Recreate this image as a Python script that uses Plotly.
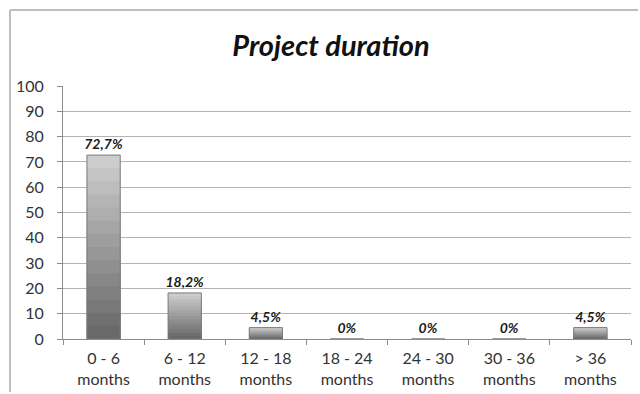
import plotly.graph_objects as go

# Share of projects per duration bucket (percent)
categories = ["0 - 6<br>months", "6 - 12<br>months", "12 - 18<br>months",
              "18 - 24<br>months", "24 - 30<br>months", "30 - 36<br>months",
              "> 36<br>months"]
shares = [72.7, 18.2, 4.5, 0, 0, 0, 4.5]
share_labels = ["72,7%", "18,2%", "4,5%", "0%", "0%", "0%", "4,5%"]
y_ticks = [0, 10, 20, 30, 40, 50, 60, 70, 80, 90, 100]

font_family = "Lato, 'Open Sans', sans-serif"
bar_width = 0.41

fig = go.Figure()

# Shaded bar body: stacked overlays from light (top) to dark (bottom)
steps = 14
light, dark = 205, 105
for k in range(steps):
    frac = 1 - k / steps
    g = int(light + (dark - light) * k / (steps - 1))
    fig.add_trace(go.Bar(
        x=categories,
        y=[v * frac for v in shares],
        width=bar_width,
        marker=dict(color=f"rgb({g},{g},{g})", line=dict(width=0)),
        hoverinfo="skip",
    ))

# Outline and value labels
fig.add_trace(go.Bar(
    x=categories,
    y=shares,
    text=share_labels,
    textposition="outside",
    constraintext="none",
    textfont=dict(family=font_family, size=14, color="#1a1a1a"),
    texttemplate="<b><i>%{text}</i></b>",
    cliponaxis=False,
    width=bar_width,
    marker=dict(color="rgba(0,0,0,0)", line=dict(color="#7a7a7a", width=1)),
))

# Chart frame: left and top edges as separate lines
frame = dict(color="#bdbdbd", width=2)
fig.add_shape(type="line", xref="paper", yref="paper",
              x0=-53 / 568, x1=-53 / 568, y0=-53 / 253, y1=1 + 76 / 253,
              line=frame, layer="below")
fig.add_shape(type="line", xref="paper", yref="paper",
              x0=-53 / 568, x1=575 / 568, y0=1 + 76 / 253, y1=1 + 76 / 253,
              line=frame, layer="below")

fig.update_layout(
    width=640, height=394,
    margin=dict(l=63, r=9, t=86, b=55, autoexpand=False),
    barmode="overlay",
    paper_bgcolor="white",
    plot_bgcolor="white",
    showlegend=False,
    title=dict(text="<b><i>Project duration</i></b>", x=331 / 640, xanchor="center",
               y=1 - 46 / 394, yanchor="middle",
               font=dict(family=font_family, size=29, color="#111")),
)
fig.update_xaxes(
    type="category", automargin=False,
    showline=True, linecolor="#8c8c8c", linewidth=1,
    ticks="outside", tickson="boundaries", ticklen=5, tickcolor="#8c8c8c",
    ticklabelstandoff=5,
    tickfont=dict(family=font_family, size=16, color="#333"),
    showgrid=False,
)
fig.update_yaxes(
    range=[0, 100], tickvals=y_ticks, automargin=False,
    showline=True, linecolor="#8c8c8c", linewidth=1,
    ticks="outside", ticklen=5, tickcolor="#8c8c8c",
    ticklabelstandoff=10,
    showgrid=True, gridcolor="#b3b3b3", gridwidth=1,
    zeroline=False,
    tickfont=dict(family=font_family, size=16, color="#333"),
)

# Keep the page itself from scrolling around the fixed-size figure
no_scroll = ("document.documentElement.style.overflow='hidden';"
             "document.body.style.overflow='hidden';"
             "document.body.style.margin='0';")

fig.write_html("out.html", config={"displayModeBar": False}, post_script=no_scroll)
